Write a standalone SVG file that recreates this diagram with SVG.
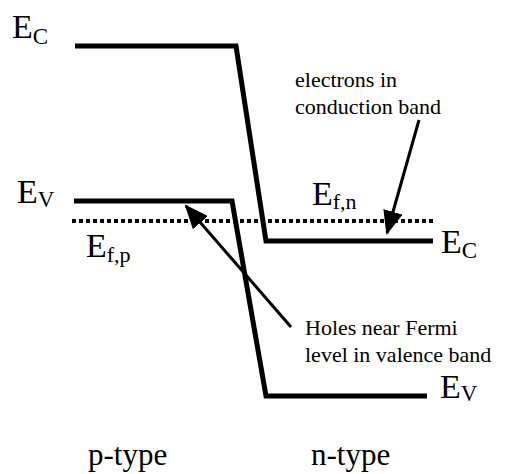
<svg xmlns="http://www.w3.org/2000/svg" width="507" height="474" viewBox="0 0 507 474">
<style>
.band{fill:none;stroke:#000;stroke-width:5;stroke-linejoin:miter}
.fermi{fill:none;stroke:#000;stroke-width:4;stroke-dasharray:4 3}
.ptr{fill:none;stroke:#000;stroke-width:3}
</style>
<defs>
<marker id="ah" markerWidth="24" markerHeight="20" refX="22" refY="10" orient="auto" markerUnits="userSpaceOnUse">
<path d="M0,0 L24,10 L0,20 Z" fill="#000"/>
</marker>
</defs>
<rect width="507" height="474" fill="#fff"/>
<g id="conduction-band">
<polyline class="band" points="75,46 236,46 266,241 433,241"/>
</g>
<g id="valence-band">
<polyline class="band" points="74,201 232,201 266,396 427,396"/>
</g>
<g id="fermi-level">
<line class="fermi" x1="72" y1="221" x2="436" y2="221"/>
</g>
<g id="connectors">
<line class="ptr" x1="419" y1="120" x2="387" y2="233" marker-end="url(#ah)"/>
<line class="ptr" x1="291" y1="327" x2="186" y2="206" marker-end="url(#ah)"/>
</g>
<g font-family="Liberation Serif" fill="#000">
<g id="label-ec-left" font-size="34"><text x="12" y="38">E<tspan font-size="23" dy="6">C</tspan></text></g>
<g id="label-ev-left" font-size="34"><text x="17" y="203">E<tspan font-size="23" dy="4">V</tspan></text></g>
<g id="label-efp" font-size="34"><text x="86" y="257">E<tspan font-size="22" dy="5">f,p</tspan></text></g>
<g id="label-efn" font-size="34"><text x="312" y="205">E<tspan font-size="22" dy="4">f,n</tspan></text></g>
<g id="label-ec-right" font-size="34"><text x="441" y="253">E<tspan font-size="23" dy="5">C</tspan></text></g>
<g id="label-ev-right" font-size="34"><text x="440" y="398">E<tspan font-size="23" dy="3">V</tspan></text></g>
<g id="note-electrons" font-size="22">
<text x="295" y="87">electrons in</text>
<text x="295" y="114">conduction band</text>
</g>
<g id="note-holes" font-size="22">
<text x="305" y="335">Holes near Fermi</text>
<text x="305" y="362">level in valence band</text>
</g>
<g id="label-ptype" font-size="31"><text x="88" y="465">p-type</text></g>
<g id="label-ntype" font-size="31"><text x="311" y="465">n-type</text></g>
</g>
</svg>
